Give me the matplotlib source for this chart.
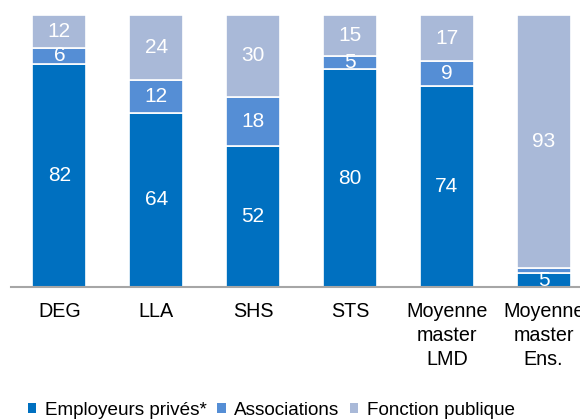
import matplotlib.pyplot as plt
from matplotlib.patches import Patch

# Data
categories = ["DEG", "LLA", "SHS", "STS", "Moyenne\nmaster\nLMD", "Moyenne\nmaster\nEns."]
prives = [82, 64, 52, 80, 74, 5]
associations = [6, 12, 18, 5, 9, 2]
fonction_publique = [12, 24, 30, 15, 17, 93]
series_names = ["Employeurs privés*", "Associations", "Fonction publique"]

colors = ["#0070C0", "#558ED5", "#A9B9D8"]

plt.rcParams['font.family'] = ['Liberation Sans', 'DejaVu Sans']

fig = plt.figure(figsize=(5.8, 4.19), dpi=100)
# axes runs past the right edge of the figure, as in the original
ax = fig.add_axes([11 / 580, 1 - 287 / 419, 581 / 580, 272 / 419])

x = list(range(len(categories)))
bottom = [0] * len(categories)
for vals, col in zip([prives, associations, fonction_publique], colors):
    ax.bar(x, vals, bottom=bottom, width=0.556, color=col,
           edgecolor="white", linewidth=1.2)
    for xi, b, v in zip(x, bottom, vals):
        if v >= 3:
            ax.text(xi, b + v / 2, str(v), ha="center", va="center",
                    color="white", fontsize=15)
    bottom = [b + v for b, v in zip(bottom, vals)]

ax.set_xlim(-0.5, len(categories) - 0.5)
ax.set_ylim(0, 100)
ax.set_xticks(x)
ax.set_xticklabels(categories, fontsize=14.2, linespacing=1.32)
ax.tick_params(axis="x", length=0, pad=11)
ax.set_yticks([])
for s in ["top", "right", "left"]:
    ax.spines[s].set_visible(False)
ax.spines["bottom"].set_color("#A6A6A6")
ax.spines["bottom"].set_linewidth(1.5)

handles = [Patch(facecolor=c, edgecolor="none") for c in colors]
fig.legend(handles, series_names, loc="center left", bbox_to_anchor=(0.048, 0.02),
           ncol=3, frameon=False, fontsize=13.6, handlelength=0.45, handleheight=0.45,
           handletextpad=0.45, columnspacing=0.55, borderpad=0, borderaxespad=0)

fig.savefig("out.png", dpi=100)
